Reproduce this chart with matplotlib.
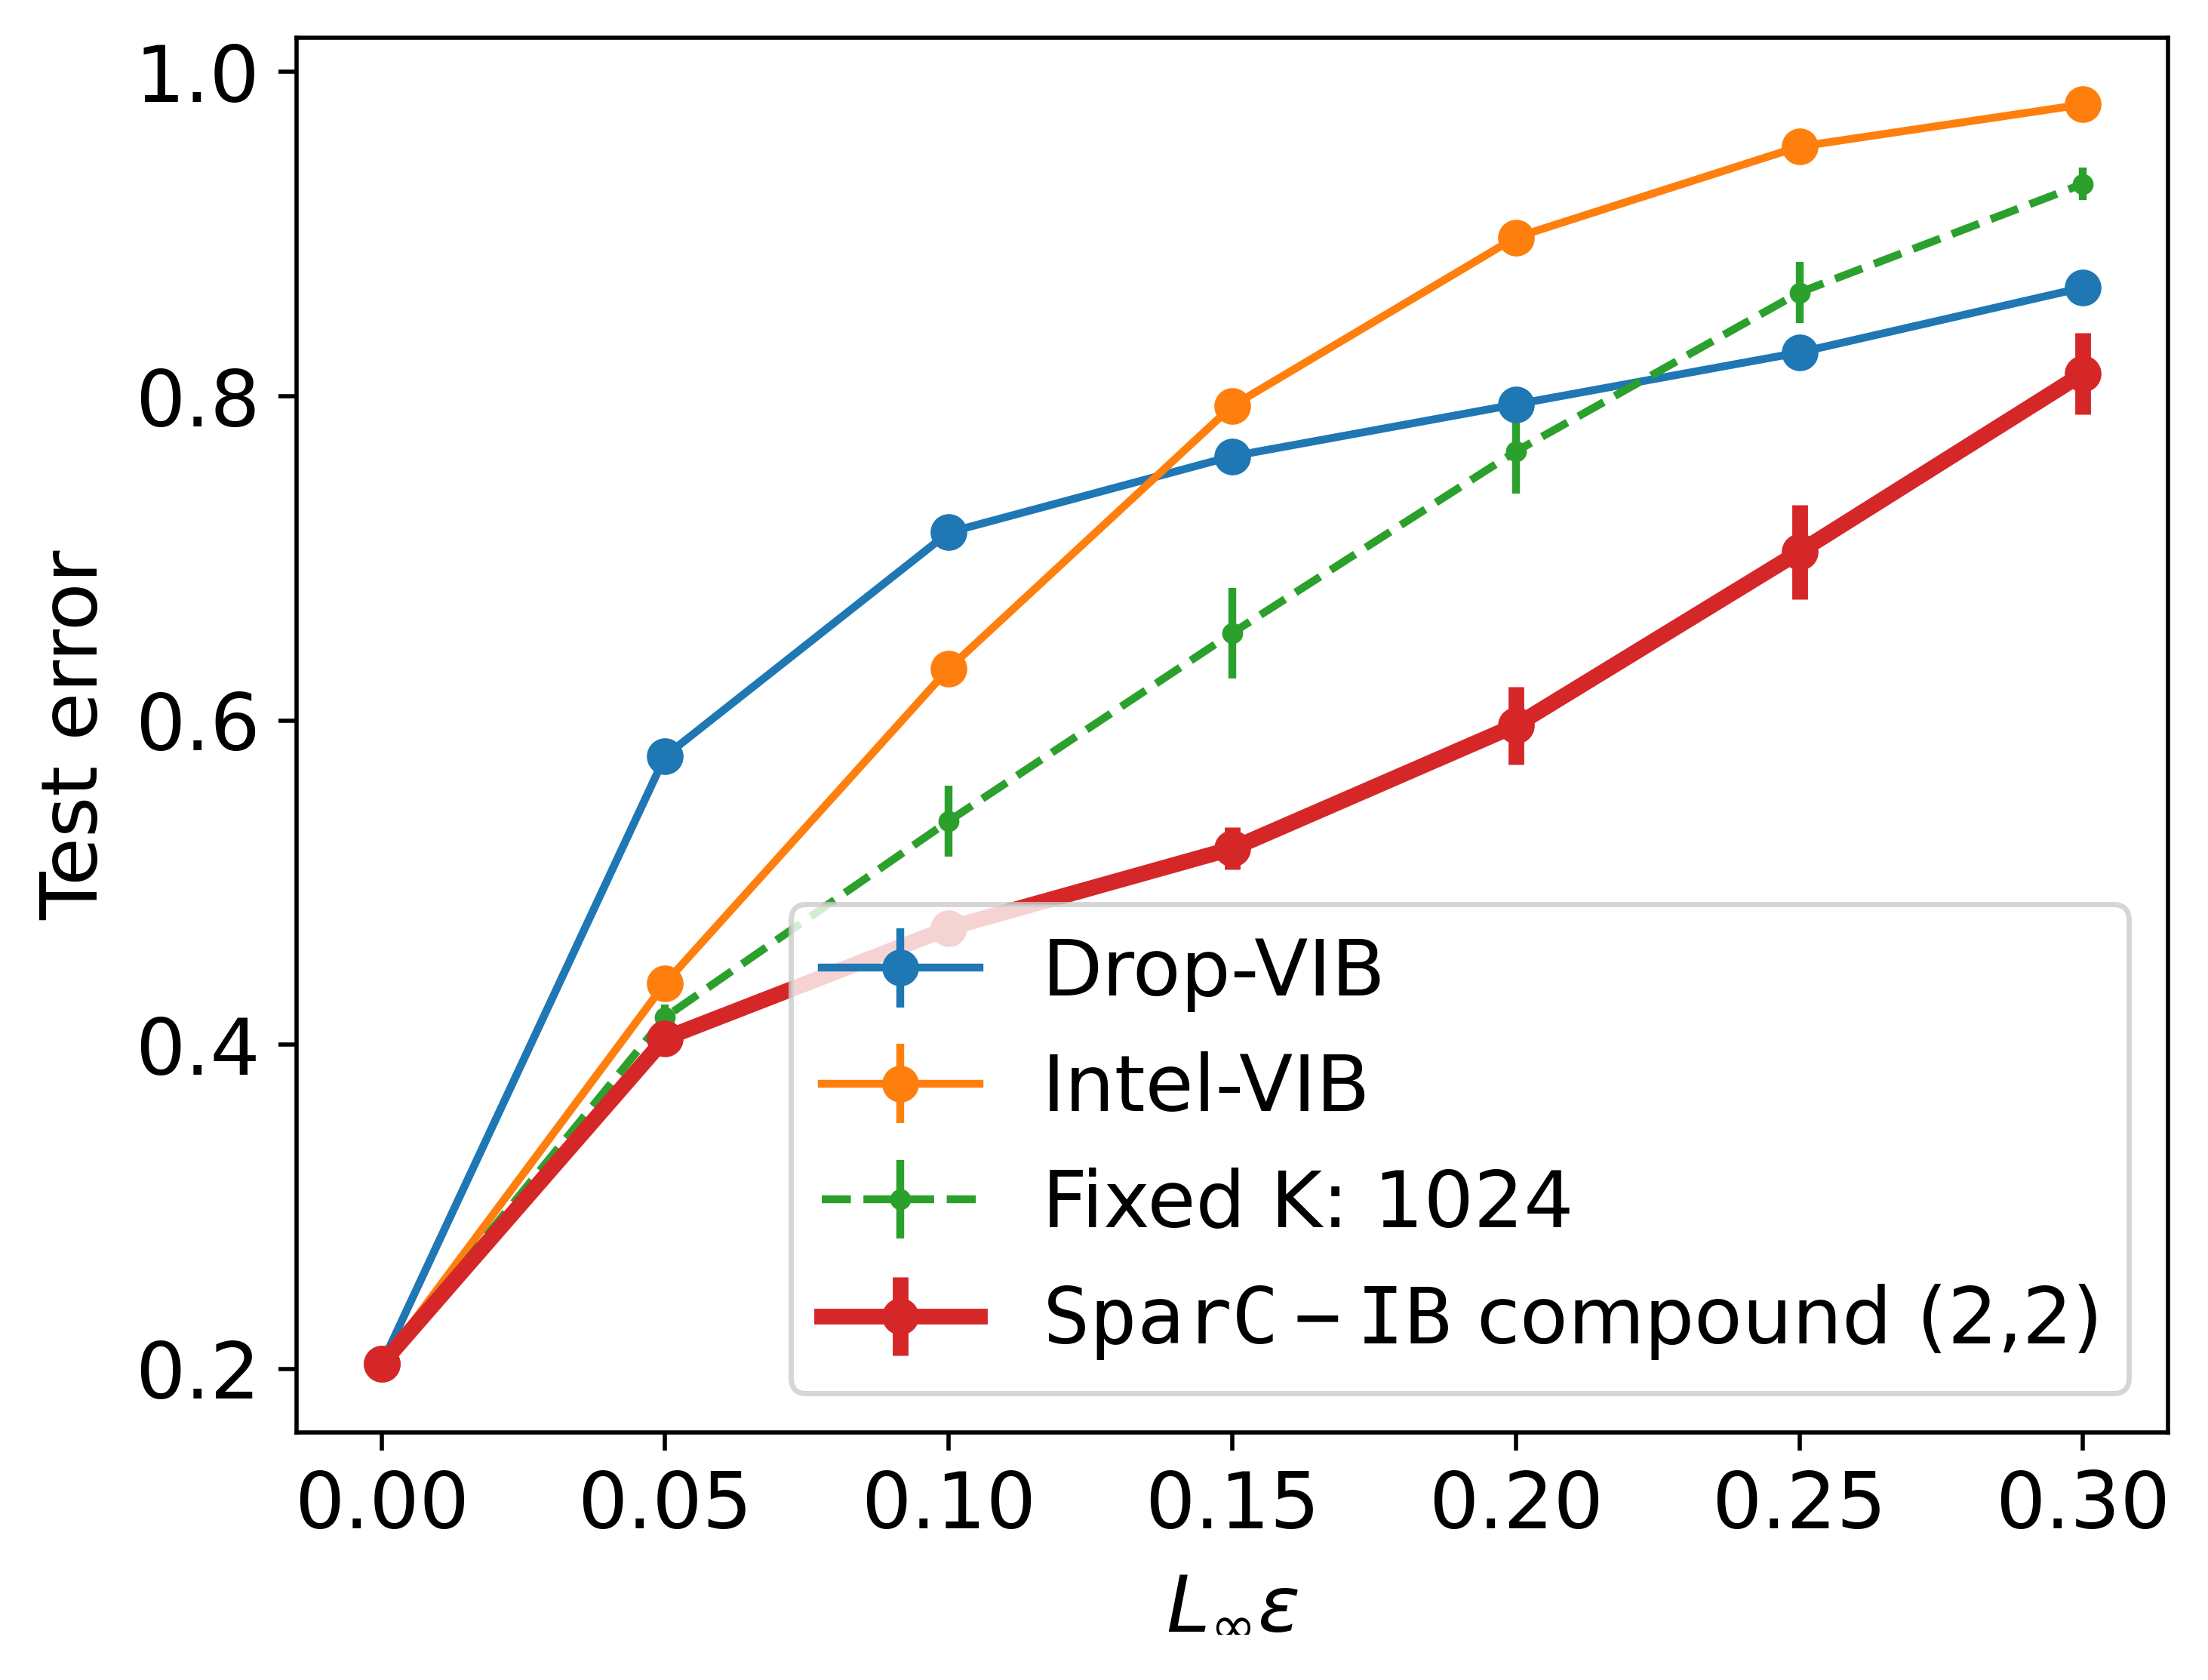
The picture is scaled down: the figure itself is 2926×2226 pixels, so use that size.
import numpy as np
import matplotlib
matplotlib.use("Agg")
import matplotlib.pyplot as plt

plt.rcParams['font.size'] = 15

# data
eps = [0.00, 0.05, 0.10, 0.15, 0.20, 0.25, 0.30]

drop_vib = [0.203, 0.578, 0.716, 0.763, 0.795, 0.827, 0.867]
drop_vib_err = [0.002, 0.002, 0.002, 0.002, 0.002, 0.002, 0.002]

intel_vib = [0.203, 0.438, 0.632, 0.794, 0.898, 0.954, 0.980]
intel_vib_err = [0.002, 0.002, 0.002, 0.002, 0.002, 0.002, 0.002]

fixed_k = [0.203, 0.417, 0.538, 0.654, 0.766, 0.864, 0.931]
fixed_k_err = [0.002, 0.008, 0.022, 0.028, 0.026, 0.019, 0.010]

sparc_ib = [0.203, 0.404, 0.472, 0.521, 0.597, 0.704, 0.814]
sparc_ib_err = [0.003, 0.005, 0.008, 0.013, 0.024, 0.029, 0.025]

fig = plt.figure(figsize=(2926/500, 2226/500), dpi=500)
ax = fig.add_axes([0.1343, 0.1474, 0.9819 - 0.1343, 0.9775 - 0.1474])

ax.errorbar(eps, drop_vib, yerr=drop_vib_err, marker='o', color='C0', label='Drop-VIB')
ax.errorbar(eps, intel_vib, yerr=intel_vib_err, marker='o', color='C1', label='Intel-VIB')
ax.errorbar(eps, fixed_k, yerr=fixed_k_err, marker='.', linestyle='--', color='C2',
            label='Fixed K: 1024')
ax.errorbar(eps, sparc_ib, yerr=sparc_ib_err, marker='o', color='C3', linewidth=3,
            elinewidth=3, label=r'$\mathtt{SparC-IB}$ compound (2,2)')

ax.set_xlabel(r'$L_\infty \varepsilon$')
ax.set_ylabel('Test error')
ax.legend(loc='lower right')

fig.savefig('out.png', dpi=500)
